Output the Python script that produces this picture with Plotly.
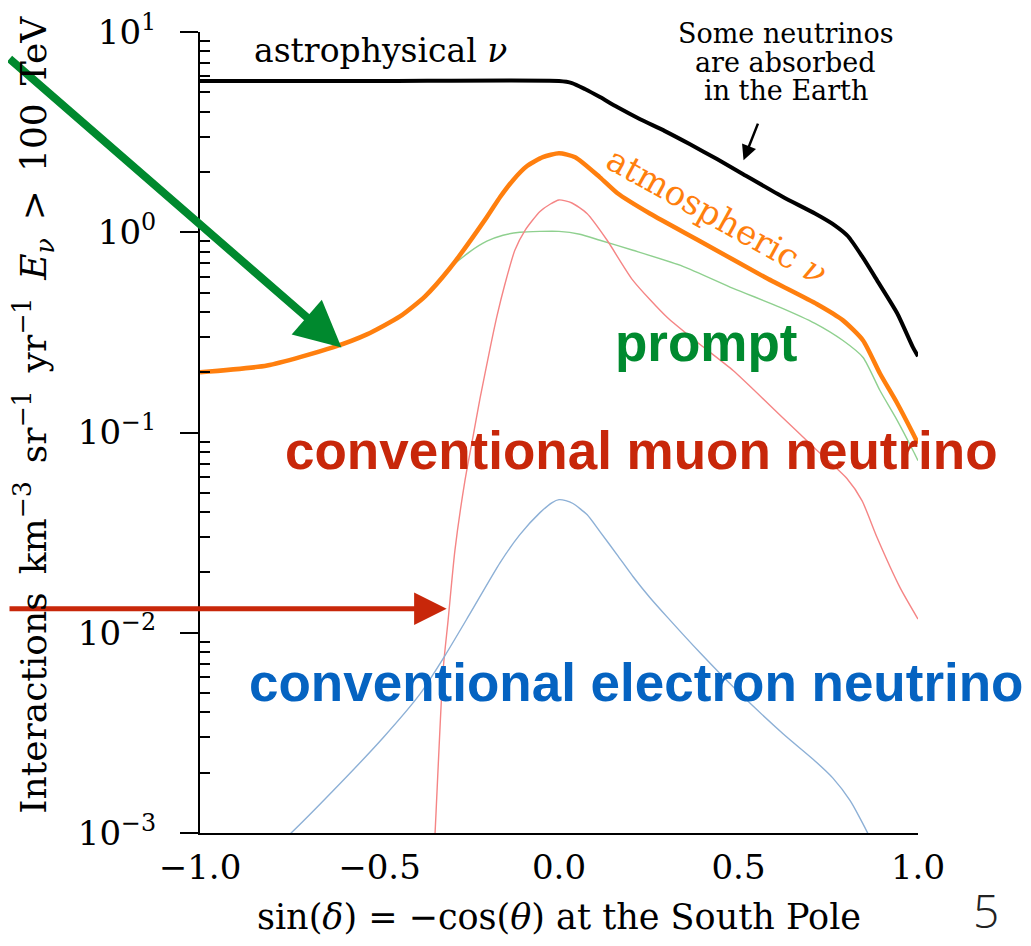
import plotly.graph_objects as go

# ---------------- data ----------------
astro_x = [-1.0, -0.5, 0.0, 0.036, 0.072, 0.114, 0.162, 0.226, 0.295, 0.365, 0.440,
           0.513, 0.624, 0.713, 0.769, 0.805, 0.844, 0.886, 0.942, 0.986, 1.0]
astro_y = [5.69, 5.69, 5.69, 5.56, 5.19, 4.73, 4.22, 3.67, 3.20, 2.75, 2.32,
           1.95, 1.50, 1.24, 1.08, 0.955, 0.759, 0.575, 0.394, 0.266, 0.240]

atmo_x = [-1.0, -0.813, -0.630, -0.535, -0.443, -0.373, -0.304, -0.201, -0.164, -0.128,
          -0.089, -0.045, 0.0, 0.045, 0.114, 0.162, 0.253, 0.393, 0.579, 0.719, 0.791,
          0.847, 0.894, 0.942, 0.986, 1.0]
atmo_y = [0.200, 0.216, 0.266, 0.309, 0.380, 0.479, 0.661, 1.19, 1.50, 1.82,
          2.14, 2.37, 2.48, 2.37, 1.88, 1.57, 1.24, 0.902, 0.589, 0.437, 0.363,
          0.288, 0.197, 0.140, 0.0989, 0.0881]

prompt_x = [-1.0, -0.813, -0.630, -0.535, -0.443, -0.373, -0.304, -0.248, -0.201, -0.156,
            -0.109, -0.053, 0.0, 0.058, 0.114, 0.206, 0.345, 0.485, 0.616, 0.713, 0.791,
            0.847, 0.894, 0.942, 0.986, 1.0]
prompt_y = [0.200, 0.216, 0.266, 0.309, 0.380, 0.479, 0.661, 0.800, 0.902, 0.966,
            1.00, 1.01, 1.01, 0.977, 0.912, 0.813, 0.676, 0.525, 0.422, 0.351, 0.288,
            0.237, 0.162, 0.115, 0.0813, 0.0724]

numu_x = [-0.352, -0.345, -0.323, -0.309, -0.290, -0.262, -0.240, -0.220, -0.192, -0.173,
          -0.150, -0.123, -0.095, -0.053, -0.025, 0.0, 0.036, 0.078, 0.134, 0.206,
          0.301, 0.393, 0.485, 0.616, 0.713, 0.802, 0.844, 0.886, 0.950, 1.0]
numu_y = [0.0006, 0.00102, 0.00646, 0.0115, 0.0257, 0.0575, 0.0944, 0.148, 0.263, 0.380,
          0.556, 0.813, 1.02, 1.27, 1.38, 1.45, 1.40, 1.24, 0.912, 0.575,
          0.376, 0.275, 0.204, 0.122, 0.0832, 0.0589, 0.0457, 0.0299, 0.0168, 0.0117]

nue_x = [-0.80, -0.749, -0.630, -0.490, -0.387, -0.318, -0.248, -0.164, -0.109, -0.053,
         -0.019, 0.0, 0.019, 0.039, 0.078, 0.114, 0.162, 0.206, 0.253, 0.301, 0.393,
         0.485, 0.624, 0.713, 0.763, 0.811, 0.861, 0.875]
nue_y = [0.00082, 0.000989, 0.00162, 0.00299, 0.00495, 0.00767, 0.01245, 0.0224, 0.0309, 0.0398,
         0.0447, 0.0462, 0.0457, 0.0442, 0.0389, 0.0320, 0.0245, 0.0191, 0.0150, 0.0120, 0.00794,
         0.00537, 0.00313, 0.00229, 0.00188, 0.00145, 0.000989, 0.00085]

x_ticks = [-1.0, -0.5, 0.0, 0.5, 1.0]
y_ticks = [1e-3, 1e-2, 1e-1, 1e0, 1e1]
y_tick_text = ["10<sup>\u22123</sup>", "10<sup>\u22122</sup>", "10<sup>\u22121</sup>",
               "10<sup>0</sup>", "10<sup>1</sup>"]
y_minor = [m * 10.0 ** e for e in range(-3, 1) for m in range(2, 10)]

# ---------------- styles ----------------
SERIF = "DejaVu Serif"
SANS = "Liberation Sans, Arial, sans-serif"

fig = go.Figure()

def add_line(x, y, color, width, name):
    fig.add_trace(go.Scatter(x=x, y=y, mode="lines", name=name,
                             line=dict(color=color, width=width, shape="spline", smoothing=0.6),
                             hoverinfo="skip", showlegend=False))

add_line(prompt_x, prompt_y, "#8fd08f", 1.4, "prompt")
add_line(numu_x, numu_y, "#f58585", 1.4, "conventional muon neutrino")
add_line(nue_x, nue_y, "#8db0d6", 1.4, "conventional electron neutrino")
add_line(atmo_x, atmo_y, "#ff7f0e", 4.5, "atmospheric")
add_line(astro_x, astro_y, "#000000", 4, "astrophysical")

ann = []
def txt(x, y, text, size, color, family=SERIF, angle=0):
    ann.append(dict(x=x, y=y, xref="x", yref="y", showarrow=False, text=text, textangle=angle,
                    xanchor="center", yanchor="middle",
                    font=dict(family=family, size=size, color=color)))

txt(-0.497, 0.91, "astrophysical <i>\u03bd</i>", 33, "black")
txt(0.631, 0.995, "Some neutrinos", 27, "black")
txt(0.631, 0.85, "are absorbed", 27, "black")
txt(0.631, 0.71, "in the Earth", 27, "black")
txt(0.441, 0.08, "atmospheric <i>\u03bd</i>", 34, "#ff7f0e", angle=29)
txt(0.411, -0.55, "<b>prompt</b>", 53, "#008a2f", family=SANS)
txt(0.229, -1.09, "<b>conventional muon neutrino</b>", 53, "#c8270a", family=SANS)
txt(0.215, -2.25, "<b>conventional electron neutrino</b>", 53, "#0563c1", family=SANS)

# arrows
ann.append(dict(x=-0.606, y=-0.575, xref="x", yref="y", ax=-342, ay=-290, text="",
                showarrow=True, arrowhead=2, arrowsize=1.15, arrowwidth=8, arrowcolor="#00892e", standoff=0))
ann.append(dict(x=-0.313, y=-1.88, xref="x", yref="y", ax=-447, ay=0, text="",
                showarrow=True, arrowhead=2, arrowsize=1.3, arrowwidth=5, arrowcolor="#c8270a", standoff=0))
ann.append(dict(x=0.514, y=0.36, xref="x", yref="y", ax=15, ay=-38, text="",
                showarrow=True, arrowhead=2, arrowsize=1.2, arrowwidth=2.5, arrowcolor="black", standoff=0))
# y-axis title
ann.append(dict(x=-0.2315, y=0.522, xref="paper", yref="paper", showarrow=False, textangle=-90,
                xanchor="center", yanchor="middle",
                text="Interactions\u2002km<sup>\u22123</sup>\u2002sr<sup>\u22121</sup>\u2002yr<sup>\u22121</sup>\u2002"
                     "<i>E</i><sub><i>\u03bd</i></sub>\u2002&gt;\u2002100\u2002TeV",
                font=dict(family=SERIF, size=36, color="black")))
# slide number
ann.append(dict(x=1.095, y=-0.096, xref="paper", yref="paper", showarrow=False, text="5",
                xanchor="center", yanchor="middle",
                font=dict(family="Open Sans", size=46, color="#222222", weight=300)))

# the page body adds an 8px offset, so the figure is 8px smaller and margins shifted
fig.update_layout(
    width=1023, height=938,
    margin=dict(l=192, r=113, t=24, b=113, autoexpand=False),
    paper_bgcolor="white", plot_bgcolor="white",
    annotations=ann,
    showlegend=False,
    xaxis=dict(range=[-1, 1], showgrid=False, zeroline=False, showline=True, linecolor="black",
               linewidth=2, ticks="", tickvals=x_ticks, tickformat=".1f", automargin=False,
               ticklabelstandoff=3, ticklabeloverflow="allow",
               tickfont=dict(family=SERIF, size=34, color="black"),
               title=dict(text="sin(<i>\u03b4</i>) = \u2212cos(<i>\u03b8</i>) at the South Pole",
                          font=dict(family=SERIF, size=35, color="black"), standoff=19)),
    yaxis=dict(type="log", range=[-3, 1], showgrid=False, zeroline=False, showline=True,
               linecolor="black", linewidth=2, ticks="outside", ticklen=18, tickwidth=2,
               tickcolor="black", tickmode="array", tickvals=y_ticks, ticktext=y_tick_text,
               automargin=False, ticklabeloverflow="allow",
               tickfont=dict(family=SERIF, size=34, color="black"), ticklabelstandoff=17,
               minor=dict(ticks="inside", ticklen=10, tickwidth=1.5, tickcolor="black",
                          tickmode="array", tickvals=y_minor, showgrid=False)),
)

fig.write_html("out.html")
